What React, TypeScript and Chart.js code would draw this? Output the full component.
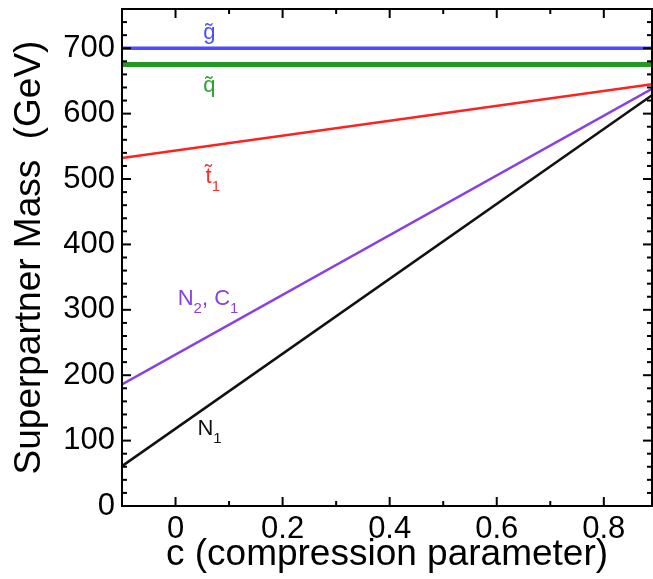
import React, { useEffect, useRef } from "react";
import { Chart, registerables } from "chart.js";
Chart.register(...registerables);

// compression parameter c at the two ends of the plotted range
const cValues = [-0.1, 0.89];
// superpartner masses (GeV) at those c values
const gluinoMass = [700, 700];
const squarkMass = [675, 675];
const stopMass = [532, 645];
const n2c1Mass = [186, 638];
const n1Mass = [61, 628];

const xTickValues = [0, 0.2, 0.4, 0.6, 0.8];
const xMinorValues = [-0.1, 0.1, 0.3, 0.5, 0.7];
const yTickValues = [0, 100, 200, 300, 400, 500, 600, 700];
const yMinorValues = [20, 40, 60, 80, 120, 140, 160, 180, 220, 240, 260, 280, 320, 340, 360, 380, 420, 440, 460, 480, 520, 540, 560, 580, 620, 640, 660, 680, 720, 740];

// line labels
const labelTexts = ["g\u0303", "q\u0303", "t\u0303", "N", "N"];
const labelSubs = ["", "", "1", "2", "1"];
const labelTails = ["", "", "", ", C", ""];
const labelTailSubs = ["", "", "", "1", ""];
const labelC = [0.052, 0.052, 0.056, 0.004, 0.041];
const labelMass = [714, 633, 494, 307, 108];
const labelColors = ["#4d4dff", "#2ea02e", "#ff2a2a", "#8a3fe0", "#111111"];

const FONT = "'Liberation Sans', Arial, 'DejaVu Sans', sans-serif";

const framePlugin = {
  id: "frameTicks",
  afterDatasetsDraw(chart: any) {
    const { ctx, chartArea: a, scales } = chart;
    const xs = scales.x, ys = scales.y;
    ctx.save();
    ctx.strokeStyle = "#000";
    ctx.lineWidth = 2;
    const tick = (x1: number, y1: number, x2: number, y2: number) => {
      ctx.beginPath();
      ctx.moveTo(x1, y1);
      ctx.lineTo(x2, y2);
      ctx.stroke();
    };
    const MAJ = 9, MIN = 5;
    xTickValues.forEach((v) => {
      const px = xs.getPixelForValue(v);
      tick(px, a.bottom, px, a.bottom - MAJ);
      tick(px, a.top, px, a.top + MAJ);
    });
    xMinorValues.forEach((v) => {
      const px = xs.getPixelForValue(v);
      tick(px, a.bottom, px, a.bottom - MIN);
      tick(px, a.top, px, a.top + MIN);
    });
    yTickValues.forEach((v) => {
      const py = ys.getPixelForValue(v);
      tick(a.left, py, a.left + MAJ, py);
      tick(a.right, py, a.right - MAJ, py);
    });
    yMinorValues.forEach((v) => {
      const py = ys.getPixelForValue(v);
      tick(a.left, py, a.left + MIN, py);
      tick(a.right, py, a.right - MIN, py);
    });
    ctx.strokeRect(a.left, a.top, a.right - a.left, a.bottom - a.top);

    // labels
    ctx.textBaseline = "alphabetic";
    ctx.textAlign = "left";
    for (let i = 0; i < labelTexts.length; i++) {
      let x = xs.getPixelForValue(labelC[i]);
      const y = ys.getPixelForValue(labelMass[i]);
      ctx.fillStyle = labelColors[i];
      ctx.font = `22px ${FONT}`;
      ctx.fillText(labelTexts[i], x, y);
      x += ctx.measureText(labelTexts[i]).width;
      if (labelSubs[i]) {
        ctx.font = `15px ${FONT}`;
        ctx.fillText(labelSubs[i], x, y + 8);
        x += ctx.measureText(labelSubs[i]).width;
      }
      if (labelTails[i]) {
        ctx.font = `22px ${FONT}`;
        ctx.fillText(labelTails[i], x, y);
        x += ctx.measureText(labelTails[i]).width;
      }
      if (labelTailSubs[i]) {
        ctx.font = `15px ${FONT}`;
        ctx.fillText(labelTailSubs[i], x, y + 8);
      }
    }
    ctx.restore();
  },
};

export default function App() {
  const ref = useRef<HTMLCanvasElement>(null);
  useEffect(() => {
    if (!ref.current) return;
    const mk = (ys: number[], color: string, w: number) => ({
      data: cValues.map((c, i) => ({ x: c, y: ys[i] })),
      borderColor: color,
      backgroundColor: color,
      borderWidth: w,
      pointRadius: 0,
      fill: false,
      tension: 0,
    });
    const chart = new Chart(ref.current, {
      type: "line",
      data: {
        datasets: [
          mk(n1Mass, "#111111", 2.5),
          mk(n2c1Mass, "#8a3fe0", 2.5),
          mk(stopMass, "#ff2020", 2.5),
          mk(squarkMass, "#229922", 5),
          mk(gluinoMass, "#4d4dff", 3.5),
        ],
      },
      options: {
        responsive: false,
        animation: false,
        layout: { padding: { top: 9, right: 1, left: 0, bottom: 0 } },
        plugins: { legend: { display: false }, tooltip: { enabled: false } },
        scales: {
          x: {
            type: "linear",
            min: cValues[0],
            max: cValues[1],
            grid: { display: false, drawTicks: false },
            border: { display: false },
            afterBuildTicks: (s: any) => {
              s.ticks = xTickValues.map((v) => ({ value: v }));
            },
            afterFit: (s: any) => {
              s.height = 73;
              s.paddingLeft = 0;
              s.paddingRight = 0;
            },
            ticks: {
              color: "#000",
              font: { family: FONT, size: 31 },
              padding: 5,
              maxRotation: 0,
              autoSkip: false,
              callback: (v: any) => String(v),
            },
            title: {
              display: true,
              text: "c (compression parameter)",
              color: "#000",
              font: { family: FONT, size: 37 },
              padding: { top: 0, bottom: 2 },
            },
          },
          y: {
            type: "linear",
            min: 0,
            max: 760,
            grid: { display: false, drawTicks: false },
            border: { display: false },
            afterBuildTicks: (s: any) => {
              s.ticks = yTickValues.map((v) => ({ value: v }));
            },
            afterFit: (s: any) => {
              s.width = 122;
              s.paddingTop = 0;
              s.paddingBottom = 0;
            },
            ticks: {
              color: "#000",
              font: { family: FONT, size: 31 },
              padding: 7,
              autoSkip: false,
              callback: (v: any) => String(v),
            },
            title: {
              display: true,
              text: "Superpartner Mass  (GeV)",
              color: "#000",
              font: { family: FONT, size: 37 },
              padding: { top: 8, bottom: 0 },
            },
          },
        },
      },
      plugins: [framePlugin],
    });
    return () => chart.destroy();
  }, []);
  return (
    <div style={{ position: "fixed", left: 0, top: 0, width: 653, height: 579, background: "#fff" }}>
      <canvas ref={ref} width={653} height={579} />
    </div>
  );
}
